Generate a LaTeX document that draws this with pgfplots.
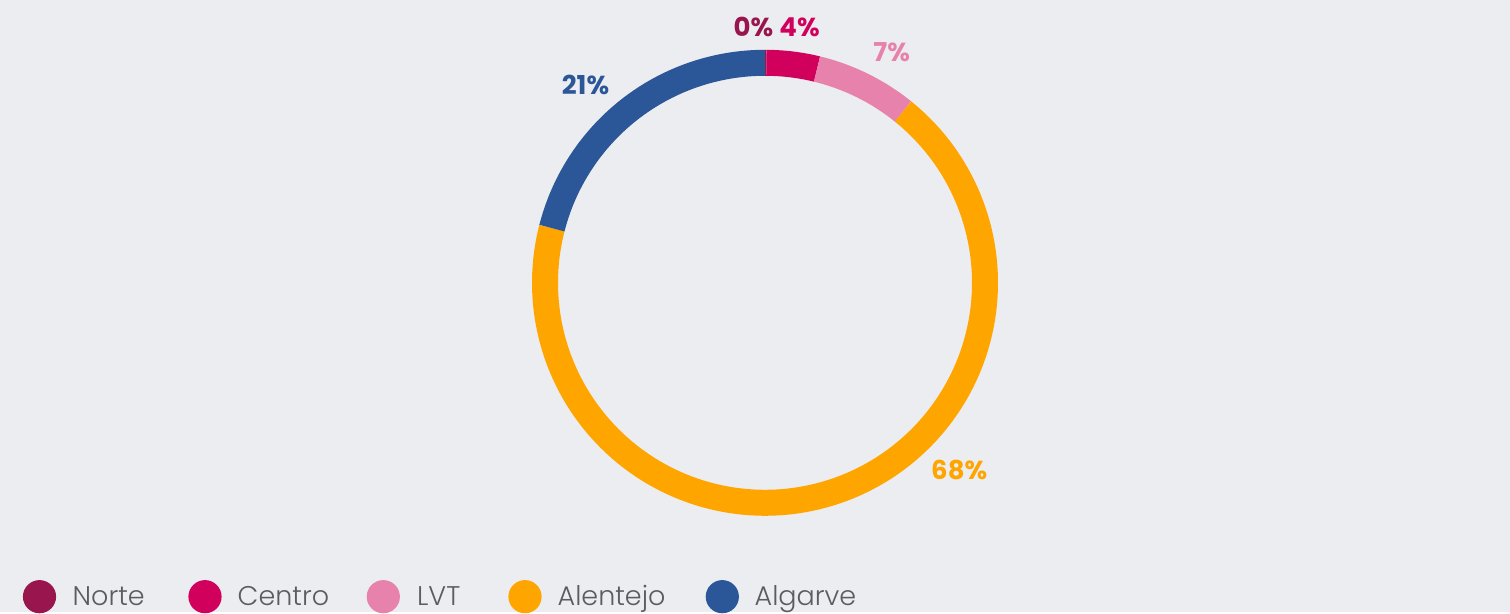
\documentclass[border=0pt]{standalone}
\usepackage{pgfplots}
\pgfplotsset{compat=1.18}
\usepackage{fontspec}
\setmainfont{Poppins}
\newfontfamily\lightfont{Poppins Light}
\newfontfamily\boldfont{Poppins Bold}
\definecolor{bgcol}{HTML}{ECEDF1}
\definecolor{cNorte}{HTML}{99154E}
\definecolor{cCentro}{HTML}{D1005D}
\definecolor{cLVT}{HTML}{E782AD}
\definecolor{cAlentejo}{HTML}{FFA500}
\definecolor{cAlgarve}{HTML}{2B5697}
\definecolor{legtext}{HTML}{5C5C60}
% shares (percent), cumulative from the top, clockwise
\def\sNorte{0.0}\def\eNorte{0.1}
\def\sCentro{0.1}\def\eCentro{3.8}
\def\sLVT{3.8}\def\eLVT{10.8}
\def\sAlentejo{10.8}\def\eAlentejo{79.0}
\def\sAlgarve{79.0}\def\eAlgarve{100}
\begin{document}
\begin{tikzpicture}
\fill[bgcol] (0,0) rectangle (755pt,306pt);
\begin{axis}[
  at={(0,0)}, anchor=south west,
  width=755pt, height=306pt, scale only axis,
  xmin=0, xmax=1510, ymin=0, ymax=612,
  hide axis, clip=false,
  every axis plot/.append style={no marks, line width=13pt, line cap=butt, samples=120, variable=\t},
]
\addplot[cNorte, domain=\sNorte:\eNorte, samples=3] ({765+220*sin(3.6*\t)}, {329.2+220*cos(3.6*\t)});
\addplot[cCentro, domain=\sCentro:\eCentro, samples=20] ({765+220*sin(3.6*\t)}, {329.2+220*cos(3.6*\t)});
\addplot[cLVT, domain=\sLVT:\eLVT, samples=30] ({765+220*sin(3.6*\t)}, {329.2+220*cos(3.6*\t)});
\addplot[cAlentejo, domain=\sAlentejo:\eAlentejo, samples=200] ({765+220*sin(3.6*\t)}, {329.2+220*cos(3.6*\t)});
\addplot[cAlgarve, domain=\sAlgarve:\eAlgarve, samples=80] ({765+220*sin(3.6*\t)}, {329.2+220*cos(3.6*\t)});
% value labels
\node[anchor=base, text=cNorte, font=\boldfont\fontsize{13}{15}\selectfont] at (axis cs:753.5,575.3) {0\%};
\node[anchor=base, text=cCentro, font=\boldfont\fontsize{13}{15}\selectfont] at (axis cs:799.5,575.3) {4\%};
\node[anchor=base, text=cLVT, font=\boldfont\fontsize{13}{15}\selectfont] at (axis cs:891.7,550.3) {7\%};
\node[anchor=base, text=cAlentejo, font=\boldfont\fontsize{13}{15}\selectfont] at (axis cs:959.2,132) {68\%};
\node[anchor=base, text=cAlgarve, font=\boldfont\fontsize{13}{15}\selectfont] at (axis cs:585.5,517.7) {21\%};
% legend
\fill[cNorte] (axis cs:39.5,15.3) circle (8.3pt);
\fill[cCentro] (axis cs:205,15.3) circle (8.3pt);
\fill[cLVT] (axis cs:383.3,15.3) circle (8.3pt);
\fill[cAlentejo] (axis cs:525,15.3) circle (8.3pt);
\fill[cAlgarve] (axis cs:722.3,15.3) circle (8.3pt);
\node[anchor=base west, inner sep=0pt, text=legtext, font=\lightfont\fontsize{13.5}{16}\selectfont] at (axis cs:72.3,6.3) {Norte};
\node[anchor=base west, inner sep=0pt, text=legtext, font=\lightfont\fontsize{13.5}{16}\selectfont] at (axis cs:237.3,6.3) {Centro};
\node[anchor=base west, inner sep=0pt, text=legtext, font=\lightfont\fontsize{13.5}{16}\selectfont] at (axis cs:416.7,6.3) {LVT};
\node[anchor=base west, inner sep=0pt, text=legtext, font=\lightfont\fontsize{13.5}{16}\selectfont] at (axis cs:557.3,6.3) {Alentejo};
\node[anchor=base west, inner sep=0pt, text=legtext, font=\lightfont\fontsize{13.5}{16}\selectfont] at (axis cs:754.3,6.3) {Algarve};
\end{axis}
\end{tikzpicture}
\end{document}
